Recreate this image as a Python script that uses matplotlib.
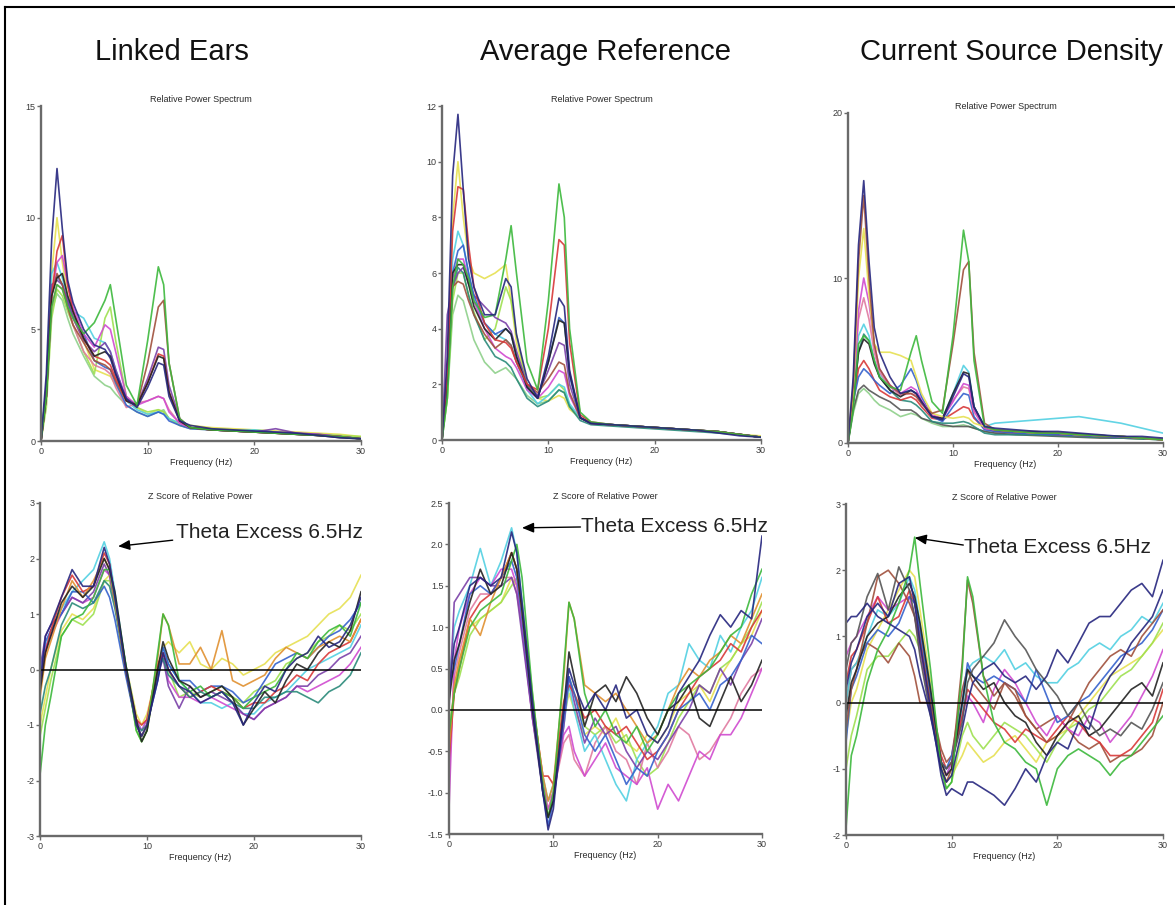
import matplotlib
matplotlib.use("Agg")
import matplotlib.pyplot as plt
from matplotlib.lines import Line2D

plt.rcParams['font.family'] = ['Liberation Sans', 'DejaVu Sans']
plt.rcParams['axes.unicode_minus'] = False

W, H = 1175, 905

# ---------------- frequency grids ----------------
power_freq = [0, 0.5, 1, 1.5, 2, 2.5, 3, 4, 5, 6, 6.5, 7, 8, 9, 10, 11, 11.5, 12,
              13, 14, 16, 18, 20, 22, 24, 26, 28, 30]
z_freq = [0, 0.5, 1, 2, 3, 4, 5, 6, 6.5, 7, 8, 9, 9.5, 10, 11, 11.5, 12, 13, 14, 15,
          16, 17, 18, 19, 20, 21, 22, 23, 24, 25, 26, 27, 28, 29, 30]

# colours
NAVY, BLUE, PURPLE, MAGENTA = '#26267e', '#3461cc', '#7a40a8', '#d04ad0'
RED, BROWN, GREEN, LIME = '#d83838', '#a0503c', '#3cb83c', '#9ee050'
YELLOW, CYAN, BLACK, DGRAY = '#e6e052', '#52d0e2', '#222222', '#555555'
PINK, TEAL, PALE, ORANGE = '#e07aa0', '#2a8a7a', '#8ed08a', '#e09030'

# ---------------- Linked Ears: relative power ----------------
le_pow_navy = [0, 3.0, 9.0, 12.2, 9.5, 7.2, 6.2, 5.0, 4.3, 4.1, 3.7, 3.0, 1.9, 1.5, 2.4, 3.5, 3.4, 2.0, 0.9, 0.7, 0.55, 0.5, 0.45, 0.4, 0.35, 0.25, 0.15, 0.1]
le_pow_yellow = [0, 2.5, 7.5, 10.0, 8.0, 6.5, 5.5, 4.5, 3.2, 3.0, 2.9, 2.5, 1.8, 1.5, 1.2, 1.4, 1.3, 1.0, 0.8, 0.7, 0.6, 0.55, 0.5, 0.45, 0.4, 0.35, 0.3, 0.2]
le_pow_red = [0, 2.0, 6.5, 8.5, 9.2, 7.0, 5.8, 4.6, 3.8, 3.6, 3.4, 2.8, 1.8, 1.6, 2.6, 3.9, 3.8, 2.2, 0.9, 0.6, 0.5, 0.45, 0.4, 0.35, 0.3, 0.25, 0.2, 0.1]
le_pow_green = [0, 2.0, 6.0, 7.0, 6.8, 6.0, 5.5, 4.8, 5.3, 6.3, 7.0, 5.5, 2.5, 1.6, 4.5, 7.8, 7.0, 3.5, 1.0, 0.6, 0.5, 0.45, 0.4, 0.35, 0.3, 0.25, 0.2, 0.1]
le_pow_brown = [0, 2.0, 6.5, 7.5, 7.0, 6.0, 5.2, 4.4, 3.6, 3.4, 3.2, 2.7, 1.8, 1.6, 3.5, 6.0, 6.3, 3.5, 1.0, 0.6, 0.5, 0.45, 0.4, 0.35, 0.3, 0.25, 0.2, 0.1]
le_pow_lime = [0, 1.5, 5.5, 6.8, 6.5, 5.8, 5.2, 4.0, 3.0, 5.5, 6.0, 4.5, 2.0, 1.5, 1.3, 1.4, 1.3, 1.0, 0.7, 0.6, 0.55, 0.5, 0.45, 0.4, 0.35, 0.3, 0.25, 0.2]
le_pow_magenta = [0, 2.0, 6.5, 8.0, 8.3, 7.0, 6.0, 4.8, 4.2, 5.2, 5.0, 4.0, 2.0, 1.6, 1.8, 2.0, 1.9, 1.3, 0.8, 0.6, 0.5, 0.45, 0.4, 0.4, 0.35, 0.3, 0.2, 0.1]
le_pow_purple = [0, 2.5, 7.0, 7.2, 7.0, 6.3, 5.5, 4.5, 4.0, 4.4, 4.0, 3.2, 1.9, 1.6, 2.8, 4.2, 4.1, 2.5, 1.0, 0.6, 0.5, 0.45, 0.4, 0.55, 0.35, 0.3, 0.2, 0.1]
le_pow_black = [0, 2.0, 6.5, 7.3, 7.5, 6.5, 5.8, 4.6, 3.8, 4.0, 3.8, 3.0, 1.8, 1.6, 2.6, 3.8, 3.7, 2.2, 0.9, 0.6, 0.5, 0.45, 0.4, 0.35, 0.3, 0.25, 0.15, 0.1]
le_pow_cyan = [0, 2.5, 7.5, 8.0, 7.3, 6.4, 5.8, 5.5, 4.6, 4.4, 4.0, 3.2, 1.8, 1.4, 1.2, 1.3, 1.2, 1.0, 0.8, 0.6, 0.5, 0.45, 0.5, 0.4, 0.3, 0.25, 0.2, 0.1]
le_pow_pale = [0, 2.0, 5.8, 6.6, 6.3, 5.5, 4.8, 3.8, 2.9, 2.5, 2.4, 2.1, 1.6, 1.3, 1.1, 1.3, 1.4, 1.0, 0.7, 0.55, 0.5, 0.45, 0.4, 0.35, 0.3, 0.25, 0.2, 0.1]
le_pow_blue = [0, 2.3, 6.8, 7.4, 7.0, 6.2, 5.6, 4.8, 3.6, 3.3, 3.2, 2.6, 1.6, 1.3, 1.1, 1.3, 1.2, 0.9, 0.7, 0.55, 0.5, 0.45, 0.4, 0.35, 0.3, 0.25, 0.2, 0.1]
le_pow_pink = [0, 2.0, 6.0, 7.0, 6.8, 6.0, 5.2, 4.0, 3.4, 3.2, 3.0, 2.4, 1.5, 1.7, 1.8, 2.0, 1.9, 1.4, 0.8, 0.6, 0.5, 0.45, 0.4, 0.35, 0.3, 0.25, 0.2, 0.1]
le_pow = [le_pow_yellow, le_pow_pale, le_pow_lime, le_pow_cyan, le_pow_pink, le_pow_blue, le_pow_magenta,
          le_pow_purple, le_pow_brown, le_pow_red, le_pow_black, le_pow_green, le_pow_navy]
le_pow_colors = [YELLOW, PALE, LIME, CYAN, PINK, BLUE, MAGENTA, PURPLE, BROWN, RED, BLACK, GREEN, NAVY]

# ---------------- Average Reference: relative power ----------------
ar_pow_navy = [0, 3.0, 9.5, 11.7, 9.0, 6.5, 5.5, 4.5, 4.5, 5.8, 5.5, 3.8, 2.2, 1.5, 3.0, 5.1, 4.8, 2.5, 0.8, 0.6, 0.55, 0.5, 0.45, 0.4, 0.35, 0.25, 0.15, 0.1]
ar_pow_yellow = [0, 2.5, 8.0, 10.0, 8.0, 6.5, 6.0, 5.8, 6.0, 6.3, 5.0, 3.5, 2.0, 1.5, 1.4, 1.6, 1.5, 1.1, 0.8, 0.6, 0.55, 0.5, 0.45, 0.4, 0.35, 0.3, 0.2, 0.15]
ar_pow_orange = [0, 2.5, 7.5, 9.1, 9.0, 7.0, 5.5, 4.2, 3.6, 3.5, 3.3, 2.8, 2.0, 1.8, 4.0, 7.2, 7.0, 3.5, 0.9, 0.65, 0.55, 0.5, 0.45, 0.4, 0.35, 0.3, 0.2, 0.1]
ar_pow_green = [0, 1.5, 5.5, 6.5, 6.3, 5.8, 5.0, 4.4, 4.5, 6.5, 7.7, 6.0, 2.8, 1.8, 5.0, 9.2, 8.0, 4.0, 1.0, 0.65, 0.55, 0.5, 0.45, 0.4, 0.35, 0.3, 0.2, 0.1]
ar_pow_cyan = [0, 2.5, 6.5, 7.5, 7.0, 6.0, 5.0, 4.2, 3.8, 3.6, 3.4, 2.8, 1.8, 1.3, 1.6, 2.0, 1.9, 1.3, 0.8, 0.6, 0.55, 0.5, 0.45, 0.4, 0.35, 0.3, 0.2, 0.1]
ar_pow_blue = [0, 2.0, 6.0, 6.8, 7.0, 6.0, 5.2, 4.2, 3.8, 4.0, 3.8, 3.0, 1.9, 1.5, 2.8, 4.4, 4.2, 2.3, 0.8, 0.6, 0.55, 0.5, 0.45, 0.4, 0.35, 0.3, 0.2, 0.1]
ar_pow_purple = [0, 4.5, 5.5, 6.0, 6.2, 5.6, 5.2, 4.8, 4.4, 4.2, 3.9, 3.2, 2.0, 1.6, 2.5, 3.5, 3.4, 2.0, 0.8, 0.6, 0.55, 0.5, 0.45, 0.4, 0.35, 0.3, 0.2, 0.1]
ar_pow_magenta = [0, 2.0, 5.8, 6.5, 6.5, 5.8, 5.0, 4.0, 3.3, 3.0, 2.9, 2.6, 1.8, 1.5, 1.9, 2.5, 2.4, 1.6, 0.8, 0.6, 0.55, 0.5, 0.45, 0.4, 0.35, 0.3, 0.2, 0.1]
ar_pow_brown = [0, 2.0, 5.5, 5.7, 5.6, 5.0, 4.5, 3.8, 3.3, 3.6, 3.4, 2.8, 2.0, 1.7, 2.2, 2.8, 2.7, 1.7, 0.8, 0.6, 0.55, 0.5, 0.45, 0.4, 0.35, 0.3, 0.2, 0.1]
ar_pow_pale = [0, 1.5, 4.5, 5.2, 5.0, 4.3, 3.6, 2.8, 2.4, 2.6, 2.4, 2.2, 1.6, 1.3, 1.4, 1.8, 1.7, 1.2, 0.8, 0.6, 0.55, 0.5, 0.45, 0.4, 0.35, 0.3, 0.2, 0.1]
ar_pow_black = [0, 2.2, 6.0, 6.3, 6.3, 5.6, 4.8, 4.0, 3.6, 4.0, 3.8, 3.0, 1.9, 1.5, 2.8, 4.3, 4.2, 2.4, 0.8, 0.6, 0.55, 0.5, 0.45, 0.4, 0.35, 0.3, 0.2, 0.1]
ar_pow_teal = [0, 2.0, 5.5, 6.2, 6.0, 5.2, 4.5, 3.6, 3.0, 2.8, 2.6, 2.2, 1.5, 1.2, 1.4, 1.8, 1.7, 1.2, 0.7, 0.55, 0.5, 0.45, 0.4, 0.35, 0.3, 0.25, 0.2, 0.1]
ar_pow_lime = [0, 1.5, 5.0, 6.0, 6.0, 5.2, 4.6, 3.6, 4.0, 5.5, 5.0, 3.8, 2.0, 1.5, 1.6, 2.0, 1.8, 1.2, 0.8, 0.6, 0.55, 0.5, 0.45, 0.4, 0.35, 0.3, 0.2, 0.1]
ar_pow = [ar_pow_yellow, ar_pow_pale, ar_pow_lime, ar_pow_cyan, ar_pow_teal, ar_pow_magenta, ar_pow_purple,
          ar_pow_brown, ar_pow_blue, ar_pow_black, ar_pow_orange, ar_pow_green, ar_pow_navy]
ar_pow_colors = [YELLOW, PALE, LIME, CYAN, TEAL, MAGENTA, PURPLE, BROWN, BLUE, BLACK, RED, GREEN, NAVY]

# ---------------- Current Source Density: relative power ----------------
csd_pow_navy = [0, 4.0, 12.0, 15.9, 11.0, 7.0, 5.5, 4.0, 3.0, 3.2, 3.0, 2.5, 1.6, 1.4, 2.8, 4.2, 4.0, 2.2, 1.0, 0.9, 0.8, 0.7, 0.7, 0.6, 0.5, 0.4, 0.4, 0.3]
csd_pow_brown = [0, 3.5, 11.0, 15.0, 10.0, 6.0, 4.5, 3.5, 3.0, 3.0, 2.8, 2.4, 1.8, 2.0, 6.0, 10.5, 11.0, 5.5, 1.2, 0.8, 0.7, 0.6, 0.6, 0.5, 0.45, 0.4, 0.3, 0.2]
csd_pow_yellow = [0, 3.0, 10.0, 13.0, 9.0, 6.0, 5.5, 5.5, 5.3, 5.0, 4.0, 3.0, 1.8, 1.6, 1.5, 1.6, 1.5, 1.2, 1.0, 0.8, 0.7, 0.6, 0.6, 0.5, 0.45, 0.4, 0.3, 0.2]
csd_pow_green = [0, 2.0, 6.0, 6.5, 6.2, 5.0, 4.0, 3.4, 3.2, 5.5, 6.5, 5.0, 2.5, 1.8, 6.5, 12.9, 11.0, 5.0, 1.0, 0.8, 0.7, 0.6, 0.6, 0.5, 0.45, 0.4, 0.3, 0.2]
csd_pow_purple = [0, 3.0, 8.0, 10.0, 8.5, 6.0, 4.5, 3.5, 3.0, 3.4, 3.2, 2.6, 1.7, 1.5, 2.5, 3.6, 3.5, 2.0, 0.9, 0.8, 0.7, 0.6, 0.6, 0.5, 0.45, 0.4, 0.3, 0.2]
csd_pow_cyan = [0, 3.0, 6.5, 7.2, 6.5, 5.0, 4.2, 3.4, 3.0, 3.2, 3.0, 2.4, 1.6, 1.5, 3.0, 4.7, 4.3, 2.2, 1.0, 1.2, 1.3, 1.4, 1.5, 1.6, 1.4, 1.2, 0.9, 0.6]
csd_pow_black = [0, 2.5, 5.5, 6.3, 6.0, 4.8, 4.0, 3.2, 2.8, 3.2, 3.0, 2.5, 1.6, 1.5, 3.0, 4.3, 4.2, 2.2, 1.0, 0.8, 0.7, 0.7, 0.6, 0.55, 0.45, 0.4, 0.3, 0.2]
csd_pow_blue = [0, 2.5, 4.0, 4.5, 4.2, 3.8, 3.5, 3.0, 3.5, 4.5, 3.8, 2.8, 1.6, 1.3, 2.2, 3.0, 2.9, 1.6, 0.8, 0.7, 0.6, 0.55, 0.5, 0.45, 0.4, 0.35, 0.3, 0.2]
csd_pow_dgreen = [0, 2.5, 5.5, 6.6, 6.2, 5.0, 4.0, 3.2, 2.6, 2.5, 2.3, 2.0, 1.3, 1.2, 1.2, 1.3, 1.2, 1.0, 0.6, 0.5, 0.5, 0.5, 0.45, 0.4, 0.35, 0.3, 0.25, 0.2]
csd_pow_gray = [0, 2.0, 3.2, 3.5, 3.2, 3.0, 2.8, 2.5, 2.0, 2.0, 1.8, 1.5, 1.3, 1.1, 1.0, 1.0, 1.0, 0.9, 0.7, 0.6, 0.5, 0.45, 0.4, 0.35, 0.3, 0.3, 0.25, 0.2]
csd_pow_pale = [0, 1.8, 3.0, 3.3, 3.0, 2.6, 2.3, 2.0, 1.6, 1.8, 1.7, 1.5, 1.2, 1.0, 1.0, 1.1, 1.0, 0.9, 0.7, 0.6, 0.55, 0.5, 0.45, 0.4, 0.35, 0.3, 0.25, 0.2]
csd_pow_red = [0, 2.5, 4.5, 5.0, 4.5, 3.8, 3.2, 2.8, 2.6, 2.8, 2.6, 2.2, 1.5, 1.4, 1.8, 2.2, 2.1, 1.5, 0.9, 0.7, 0.6, 0.6, 0.5, 0.45, 0.4, 0.35, 0.3, 0.2]
csd_pow_pink = [0, 3.0, 7.5, 8.8, 7.5, 5.5, 4.3, 3.4, 2.9, 3.0, 2.9, 2.4, 1.6, 1.5, 2.6, 3.4, 3.3, 1.9, 0.9, 0.8, 0.7, 0.6, 0.6, 0.5, 0.45, 0.4, 0.3, 0.2]
csd_pow = [csd_pow_pale, csd_pow_gray, csd_pow_dgreen, csd_pow_red, csd_pow_cyan, csd_pow_blue, csd_pow_pink,
           csd_pow_purple, csd_pow_black, csd_pow_yellow, csd_pow_brown, csd_pow_green, csd_pow_navy]
csd_pow_colors = [PALE, DGRAY, TEAL, RED, CYAN, BLUE, PINK, MAGENTA, BLACK, YELLOW, BROWN, GREEN, NAVY]

# ---------------- Linked Ears: z scores ----------------
le_z_navy = [-0.3, 0.6, 0.8, 1.3, 1.8, 1.5, 1.5, 2.2, 1.9, 1.3, 0.0, -1.0, -1.2, -1.0, -0.2, 0.3, 0.0, -0.3, -0.4, -0.6, -0.5, -0.4, -0.6, -1.0, -0.6, -0.3, -0.4, 0.0, 0.2, 0.3, 0.6, 0.4, 0.5, 0.8, 1.3]
le_z_cyan = [0.1, 0.4, 0.7, 1.1, 1.4, 1.6, 1.8, 2.3, 2.0, 1.4, 0.1, -0.9, -1.1, -0.9, 0.0, 0.4, 0.1, -0.2, -0.4, -0.6, -0.6, -0.7, -0.6, -0.8, -0.8, -0.6, -0.5, -0.4, -0.2, 0.0, 0.1, 0.2, 0.3, 0.4, 0.8]
le_z_green = [-1.9, -1.0, -0.5, 0.6, 0.9, 1.0, 1.3, 1.8, 1.8, 1.3, 0.1, -1.1, -1.3, -1.1, 0.3, 1.0, 0.8, -0.2, -0.4, -0.3, -0.5, -0.4, -0.5, -0.7, -0.5, -0.4, -0.3, 0.0, 0.3, 0.2, 0.5, 0.7, 0.8, 0.6, 1.2]
le_z_orange = [-0.5, 0.2, 0.5, 1.1, 1.6, 1.3, 1.6, 2.0, 1.8, 1.2, 0.0, -1.0, -1.2, -1.0, 0.2, 1.0, 0.8, 0.1, 0.1, 0.4, 0.0, 0.7, -0.2, -0.3, -0.2, -0.1, 0.2, 0.4, 0.3, 0.2, 0.4, 0.5, 0.6, 0.5, 0.9]
le_z_yellow = [-1.0, -0.5, 0.0, 0.7, 1.0, 0.9, 1.1, 1.6, 1.7, 1.3, 0.1, -0.8, -1.0, -0.8, 0.0, 0.4, 0.5, 0.3, 0.5, 0.1, 0.0, 0.2, 0.1, -0.1, 0.0, 0.1, 0.3, 0.4, 0.5, 0.6, 0.8, 1.0, 1.1, 1.3, 1.7]
le_z_purple = [0.0, 0.6, 0.8, 1.0, 1.3, 1.2, 1.4, 1.9, 1.7, 1.2, 0.0, -1.0, -1.2, -1.0, -0.1, 0.2, -0.3, -0.7, -0.3, -0.5, -0.4, -0.5, -0.6, -0.8, -0.9, -0.7, -0.6, -0.5, -0.3, -0.3, -0.1, 0.0, 0.2, 0.3, 0.6]
le_z_magenta = [-0.2, 0.4, 0.6, 1.0, 1.3, 1.2, 1.3, 1.8, 1.7, 1.2, 0.0, -0.9, -1.1, -0.9, 0.0, 0.3, -0.2, -0.5, -0.5, -0.6, -0.5, -0.6, -0.7, -0.8, -0.9, -0.7, -0.6, -0.5, -0.3, -0.4, -0.3, -0.2, -0.1, 0.1, 0.4]
le_z_red = [-0.3, 0.3, 0.7, 1.3, 1.7, 1.4, 1.5, 2.1, 1.9, 1.3, 0.0, -0.9, -1.0, -0.9, 0.1, 0.3, 0.0, -0.3, -0.5, -0.4, -0.3, -0.4, -0.5, -0.7, -0.6, -0.6, -0.4, -0.3, -0.1, -0.2, 0.1, 0.3, 0.4, 0.5, 0.9]
le_z_black = [-0.4, 0.3, 0.6, 1.2, 1.5, 1.3, 1.5, 2.0, 1.8, 1.4, 0.1, -0.9, -1.3, -1.1, 0.0, 0.5, 0.2, -0.2, -0.3, -0.5, -0.4, -0.3, -0.5, -1.0, -0.7, -0.4, -0.6, -0.2, 0.1, 0.0, 0.3, 0.5, 0.4, 0.7, 1.4]
le_z_blue = [-0.2, 0.5, 0.7, 1.0, 1.4, 1.4, 1.2, 1.5, 1.3, 0.9, -0.1, -1.0, -1.2, -1.0, -0.2, 0.4, 0.1, -0.2, -0.2, -0.4, -0.3, -0.3, -0.4, -0.6, -0.5, -0.2, 0.1, 0.2, 0.3, 0.2, 0.4, 0.6, 0.7, 0.9, 1.2]
le_z_lime = [-1.2, -0.7, -0.2, 0.6, 0.9, 0.8, 1.0, 1.6, 1.6, 1.2, 0.1, -1.1, -1.3, -1.1, 0.0, 0.3, 0.0, -0.5, -0.4, -0.5, -0.4, -0.3, -0.5, -0.6, -0.4, -0.3, -0.2, 0.1, 0.2, 0.3, 0.5, 0.6, 0.8, 0.7, 1.0]
le_z_dgreen = [-0.8, -0.3, 0.0, 0.8, 1.2, 1.1, 1.2, 1.6, 1.5, 1.1, 0.0, -1.0, -1.1, -1.0, 0.0, 0.2, -0.1, -0.3, -0.5, -0.4, -0.5, -0.4, -0.6, -0.7, -0.7, -0.5, -0.5, -0.4, -0.4, -0.5, -0.6, -0.4, -0.3, -0.1, 0.3]
le_z = [le_z_yellow, le_z_lime, le_z_cyan, le_z_magenta, le_z_purple, le_z_blue, le_z_red, le_z_dgreen,
        le_z_orange, le_z_green, le_z_black, le_z_navy]
le_z_colors = [YELLOW, LIME, CYAN, MAGENTA, PURPLE, BLUE, RED, TEAL, ORANGE, GREEN, BLACK, NAVY]

# ---------------- Average Reference: z scores ----------------
ar_z_navy = [0.2, 0.8, 1.0, 1.5, 1.6, 1.5, 1.6, 2.15, 1.9, 1.3, 0.1, -1.0, -1.45, -1.2, 0.0, 0.5, 0.3, 0.0, 0.2, 0.0, 0.3, -0.1, 0.0, -0.3, -0.4, -0.2, 0.2, 0.4, 0.6, 0.9, 1.15, 1.0, 1.2, 1.1, 2.1]
ar_z_cyan = [0.3, 1.0, 1.2, 1.5, 1.95, 1.5, 1.8, 2.2, 1.9, 1.3, 0.0, -0.8, -1.1, -0.9, -0.2, 0.3, 0.0, -0.5, -0.3, -0.6, -0.9, -1.1, -0.6, -0.4, -0.2, 0.2, 0.3, 0.8, 0.6, 0.5, 0.9, 0.7, 1.0, 1.2, 1.6]
ar_z_green = [-0.3, 0.2, 0.5, 1.0, 1.2, 1.3, 1.4, 1.8, 2.0, 1.6, 0.2, -0.9, -1.3, -1.0, 0.5, 1.3, 1.1, 0.2, -0.2, 0.0, -0.3, -0.4, -0.2, -0.5, -0.3, 0.0, 0.2, 0.3, 0.4, 0.5, 0.7, 0.9, 1.0, 1.4, 1.7]
ar_z_magenta = [-1.2, 0.6, 1.0, 1.4, 1.6, 1.5, 1.7, 1.7, 1.5, 1.0, -0.1, -0.9, -1.2, -1.0, -0.3, -0.2, -0.5, -0.8, -0.6, -0.4, -0.7, -0.8, -0.9, -0.7, -1.2, -0.9, -1.1, -0.8, -0.5, -0.6, -0.3, -0.3, -0.1, 0.2, 0.5]
ar_z_orange = [-0.5, 0.3, 0.6, 1.1, 0.9, 1.3, 1.6, 1.9, 1.7, 1.2, 0.1, -0.8, -1.1, -0.9, 0.4, 1.3, 1.1, 0.3, 0.2, 0.1, 0.2, 0.0, -0.2, -0.4, -0.3, 0.0, 0.3, 0.5, 0.4, 0.6, 0.7, 0.9, 0.8, 1.1, 1.4]
ar_z_yellow = [-0.4, 0.2, 0.6, 1.0, 1.1, 1.2, 1.3, 1.6, 1.5, 1.1, 0.0, -0.9, -1.2, -1.0, -0.1, 0.2, 0.0, -0.3, -0.2, -0.3, -0.1, -0.4, -0.5, -0.3, -0.4, -0.2, 0.1, 0.2, 0.3, 0.1, 0.4, 0.6, 0.8, 0.9, 1.2]
ar_z_purple = [0.0, 1.3, 1.4, 1.6, 1.6, 1.5, 1.5, 1.6, 1.4, 0.9, -0.1, -1.0, -1.3, -1.1, -0.2, 0.4, 0.1, -0.4, -0.1, -0.3, -0.2, -0.5, -0.7, -0.5, -0.6, -0.4, -0.2, 0.0, 0.3, 0.2, 0.5, 0.3, 0.6, 0.8, 1.1]
ar_z_black = [0.1, 0.6, 0.8, 1.3, 1.7, 1.4, 1.5, 1.9, 1.7, 1.2, 0.0, -1.0, -1.3, -1.1, 0.0, 0.7, 0.4, -0.2, 0.2, 0.3, 0.1, 0.4, 0.2, -0.1, -0.3, 0.0, 0.1, 0.3, -0.1, -0.2, 0.1, 0.4, 0.1, 0.3, 0.6]
ar_z_red = [-0.6, 0.2, 0.5, 1.1, 1.3, 1.4, 1.6, 1.9, 1.7, 1.2, 0.1, -0.8, -0.8, -0.9, 0.1, 0.3, 0.2, -0.1, 0.0, -0.2, -0.3, -0.2, -0.4, -0.6, -0.5, -0.3, 0.0, 0.2, 0.4, 0.5, 0.6, 0.8, 0.7, 1.0, 1.2]
ar_z_blue = [0.3, 0.5, 0.8, 1.4, 1.5, 1.4, 1.6, 1.8, 1.6, 1.1, 0.0, -1.0, -1.4, -1.1, -0.1, 0.4, 0.2, -0.3, -0.5, -0.3, -0.6, -0.9, -0.7, -0.8, -0.5, -0.3, 0.0, 0.1, 0.2, 0.0, 0.3, 0.4, 0.6, 0.9, 0.8]
ar_z_lime = [-0.2, 0.2, 0.4, 0.9, 1.1, 1.2, 1.3, 1.5, 1.6, 1.3, 0.2, -0.9, -1.3, -1.0, 0.1, 0.4, 0.2, -0.2, -0.3, -0.2, -0.4, -0.3, -0.6, -0.8, -0.7, -0.4, -0.1, 0.1, 0.3, 0.2, 0.5, 0.6, 0.8, 1.0, 1.3]
ar_z_pink = [-0.8, 0.4, 0.7, 1.2, 1.4, 1.4, 1.6, 1.6, 1.4, 1.0, -0.1, -0.9, -1.1, -1.0, -0.4, -0.3, -0.6, -0.8, -0.4, -0.2, -0.5, -0.6, -0.9, -0.4, -0.7, -0.5, -0.2, -0.3, -0.6, -0.5, -0.3, -0.1, 0.2, 0.4, 0.5]
ar_z = [ar_z_yellow, ar_z_lime, ar_z_pink, ar_z_cyan, ar_z_magenta, ar_z_purple, ar_z_red, ar_z_blue,
        ar_z_orange, ar_z_green, ar_z_black, ar_z_navy]
ar_z_colors = [YELLOW, LIME, PINK, CYAN, MAGENTA, PURPLE, RED, BLUE, ORANGE, GREEN, BLACK, NAVY]

# ---------------- Current Source Density: z scores ----------------
csd_z_navyhi = [1.2, 1.3, 1.3, 1.5, 1.3, 1.2, 1.1, 1.0, 0.8, 0.4, -0.2, -1.0, -1.2, -1.1, -0.4, 0.0, 0.3, 0.5, 0.6, 0.4, 0.3, 0.4, 0.2, 0.4, 0.8, 0.6, 0.9, 1.2, 1.3, 1.3, 1.5, 1.7, 1.8, 1.6, 2.15]
csd_z_navylo = [0.2, 0.6, 0.8, 1.3, 1.5, 1.3, 1.8, 1.9, 1.5, 0.9, -0.1, -1.1, -1.4, -1.3, -1.4, -1.2, -1.2, -1.3, -1.4, -1.55, -1.3, -1.0, -1.2, -0.8, -0.6, -0.7, -0.3, -0.4, 0.1, 0.4, 0.6, 0.9, 1.1, 1.3, 1.7]
csd_z_dgray = [0.5, 0.9, 1.0, 1.6, 1.95, 1.4, 2.05, 1.7, 1.3, 0.7, -0.2, -0.9, -1.0, -0.9, -0.3, 0.3, 0.5, 0.7, 0.9, 1.25, 1.0, 0.8, 0.5, 0.3, 0.1, -0.2, 0.0, -0.3, -0.5, -0.4, -0.5, -0.3, -0.4, -0.1, 0.3]
csd_z_green = [-1.9, -0.8, -0.5, 0.3, 0.8, 1.1, 1.5, 2.0, 2.5, 1.8, 0.5, -1.0, -1.3, -1.2, 0.5, 1.9, 1.6, 0.4, -0.3, -0.6, -0.7, -0.9, -1.0, -1.55, -1.0, -0.8, -0.7, -0.8, -0.9, -1.1, -0.9, -0.8, -0.6, -0.4, -0.2]
csd_z_brown = [-0.4, 0.2, 0.5, 1.2, 1.9, 2.0, 1.8, 1.5, 1.3, 0.9, 0.0, -1.0, -1.2, -1.0, 0.6, 1.85, 1.5, 0.4, 0.1, 0.3, 0.2, -0.2, -0.4, -0.6, -0.5, -0.3, 0.0, 0.3, 0.5, 0.7, 0.8, 0.7, 1.0, 1.2, 1.4]
csd_z_cyan = [0.0, 0.5, 0.6, 1.0, 1.4, 1.3, 1.5, 1.9, 1.7, 1.2, 0.2, -0.9, -1.1, -0.9, -0.1, 0.5, 0.6, 0.7, 0.6, 0.8, 0.5, 0.6, 0.4, 0.3, 0.3, 0.5, 0.6, 0.8, 0.9, 0.8, 1.0, 1.1, 1.3, 1.2, 1.5]
csd_z_magenta = [0.7, 0.9, 1.0, 1.3, 1.6, 1.4, 1.5, 1.6, 1.3, 0.8, -0.1, -0.9, -1.1, -0.9, -0.2, 0.1, 0.0, -0.3, 0.2, 0.5, 0.3, 0.0, -0.3, -0.5, -0.2, -0.4, -0.5, -0.2, -0.3, -0.6, -0.4, -0.2, 0.1, 0.4, 0.8]
csd_z_red = [0.3, 0.7, 0.8, 1.2, 1.6, 1.2, 1.3, 1.7, 1.5, 1.0, 0.0, -0.8, -1.0, -0.9, -0.2, 0.2, 0.1, -0.1, -0.3, -0.4, -0.6, -0.4, -0.5, -0.6, -0.4, -0.2, -0.3, -0.5, -0.6, -0.8, -0.8, -0.7, -0.5, -0.3, 0.2]
csd_z_yellow = [-0.5, 0.0, 0.2, 0.8, 1.1, 1.4, 1.7, 2.0, 1.9, 1.4, 0.3, -0.9, -1.2, -1.1, -0.8, -0.6, -0.7, -0.9, -0.8, -0.6, -0.5, -0.7, -0.9, -0.6, -0.5, -0.4, -0.2, 0.0, 0.2, 0.4, 0.5, 0.6, 0.7, 0.9, 1.1]
csd_z_black = [-0.2, 0.3, 0.5, 1.0, 1.2, 1.3, 1.6, 1.8, 1.6, 1.2, 0.2, -0.9, -1.1, -1.0, 0.0, 0.5, 0.4, 0.2, 0.3, 0.0, -0.2, -0.3, -0.6, -0.8, -0.5, -0.3, -0.2, -0.5, -0.4, -0.2, 0.0, 0.2, 0.3, 0.1, 0.6]
csd_z_lime = [-1.0, -0.5, -0.2, 0.5, 0.7, 0.7, 0.9, 1.1, 1.0, 0.8, 0.0, -1.0, -1.3, -1.2, -0.5, -0.3, -0.5, -0.7, -0.5, -0.3, -0.4, -0.5, -0.7, -0.9, -0.6, -0.4, -0.3, -0.1, 0.0, 0.2, 0.4, 0.5, 0.7, 0.9, 1.2]
csd_z_blue = [-0.6, 0.2, 0.4, 0.9, 1.1, 1.0, 1.2, 1.6, 1.5, 1.1, 0.1, -0.9, -1.0, -0.8, 0.0, 0.6, 0.4, 0.3, 0.4, 0.3, 0.2, 0.0, 0.5, 0.1, -0.3, -0.2, 0.0, 0.1, 0.3, 0.5, 0.7, 0.8, 0.9, 1.1, 1.4]
csd_z_pink = [0.0, 0.5, 0.6, 0.9, 0.8, 0.6, 0.9, 0.7, 0.4, 0.0, 0.0, -0.7, -0.9, -0.8, 0.2, 0.5, 0.3, 0.1, -0.1, 0.3, 0.1, -0.2, -0.4, -0.3, -0.2, -0.4, -0.6, -0.7, -0.6, -0.9, -0.8, -0.8, -0.7, -0.5, 0.0]
csd_z = [csd_z_yellow, csd_z_lime, csd_z_pink, csd_z_cyan, csd_z_magenta, csd_z_red, csd_z_blue, csd_z_brown,
         csd_z_black, csd_z_dgray, csd_z_green, csd_z_navylo, csd_z_navyhi]
csd_z_colors = [YELLOW, LIME, BROWN, CYAN, MAGENTA, RED, BLUE, BROWN, BLACK, DGRAY, GREEN, NAVY, NAVY]

column_titles = ["Linked Ears", "Average Reference", "Current Source Density"]
column_title_x = [172, 605, 1011]

# ---------------- figure ----------------
fig = plt.figure(figsize=(W / 100, H / 100), dpi=100)
fig.patch.set_facecolor('white')


def rect(x0, x1, ytop, ybot):
    return [x0 / W, 1 - ybot / H, (x1 - x0) / W, (ybot - ytop) / H]


SPINE = '#6a6a6a'


def style(ax, title, ylim, yticks, ylabels):
    ax.set_xlim(0, 30)
    ax.set_ylim(*ylim)
    ax.set_xticks([0, 10, 20, 30])
    ax.set_yticks(yticks)
    ax.set_yticklabels(ylabels)
    for s in ('top', 'right'):
        ax.spines[s].set_visible(False)
    for s in ('left', 'bottom'):
        ax.spines[s].set_color(SPINE)
        ax.spines[s].set_linewidth(1.7)
    ax.tick_params(length=3, width=1, color=SPINE, labelsize=6.5,
                   labelcolor='#3a3a3a', pad=1)
    ax.set_title(title, fontsize=6.5, color='#2a2a2a', pad=3)
    ax.set_xlabel('Frequency (Hz)', fontsize=6.5, color='#2a2a2a', labelpad=2)


def draw(ax, freq, series, colors):
    for ys, c in zip(series, colors):
        assert len(ys) == len(freq), (len(ys), len(freq))
        ax.plot(freq, ys, color=c, lw=1.2, alpha=0.9, solid_joinstyle='round')


# top row
axA = fig.add_axes(rect(41, 361, 106, 441))
draw(axA, power_freq, le_pow, le_pow_colors)
style(axA, 'Relative Power Spectrum', (0, 15), [0, 5, 10, 15], ['0', '5', '10', '15'])

axB = fig.add_axes(rect(442, 761, 106, 440))
draw(axB, power_freq, ar_pow, ar_pow_colors)
style(axB, 'Relative Power Spectrum', (0, 12), [0, 2, 4, 6, 8, 10, 12],
      ['0', '2', '4', '6', '8', '10', '12'])

axC = fig.add_axes(rect(848, 1163, 113, 443))
draw(axC, power_freq, csd_pow, csd_pow_colors)
style(axC, 'Relative Power Spectrum', (0, 20), [0, 10, 20], ['0', '10', '20'])

# bottom row
axD = fig.add_axes(rect(40, 361, 503, 836))
draw(axD, z_freq, le_z, le_z_colors)
axD.axhline(0, color='black', lw=1.1)
style(axD, 'Z Score of Relative Power', (-3, 3), [-3, -2, -1, 0, 1, 2, 3],
      ['-3', '-2', '-1', '0', '1', '2', '3'])

axE = fig.add_axes(rect(449, 762, 503, 834))
draw(axE, z_freq, ar_z, ar_z_colors)
axE.axhline(0, color='black', lw=1.1)
e_ticks = [-1.5, -1.0, -0.5, 0.0, 0.5, 1.0, 1.5, 2.0, 2.5]
style(axE, 'Z Score of Relative Power', (-1.5, 2.5), e_ticks, ['%.1f' % t for t in e_ticks])

axF = fig.add_axes(rect(846, 1163, 504, 835))
draw(axF, z_freq, csd_z, csd_z_colors)
axF.axhline(0, color='black', lw=1.1)
style(axF, 'Z Score of Relative Power', (-2, 3), [-2, -1, 0, 1, 2, 3],
      ['-2', '-1', '0', '1', '2', '3'])

# column titles
for t, x in zip(column_titles, column_title_x):
    fig.text(x / W, 1 - 52 / H, t, fontsize=21, ha='center', va='center', color='#111111')

# annotations (head, tail, text position in data coords)
ann = [(axD, (7.3, 2.22), (12.4, 2.33), (12.7, 2.46)),
       (axE, (7.0, 2.2), (12.6, 2.21), (12.65, 2.21)),
       (axF, (6.5, 2.49), (11.1, 2.38), (11.15, 2.35))]
for ax, head, tail, tpos in ann:
    ax.annotate('', xy=head, xytext=tail, annotation_clip=False,
                arrowprops=dict(arrowstyle='-|>,head_length=0.7,head_width=0.3',
                                color='black', lw=1.0, shrinkA=0, shrinkB=0))
    ax.text(tpos[0], tpos[1], 'Theta Excess 6.5Hz', fontsize=15, ha='left', va='center',
            color='#222222', clip_on=False)

# frame lines (top and left)
fig.add_artist(Line2D([5 / W, 1], [1 - 7 / H, 1 - 7 / H], transform=fig.transFigure,
                      color='black', lw=1.5))
fig.add_artist(Line2D([5 / W, 5 / W], [0, 1 - 7 / H], transform=fig.transFigure,
                      color='black', lw=1.5))

fig.savefig('out.png', dpi=100, facecolor='white')
